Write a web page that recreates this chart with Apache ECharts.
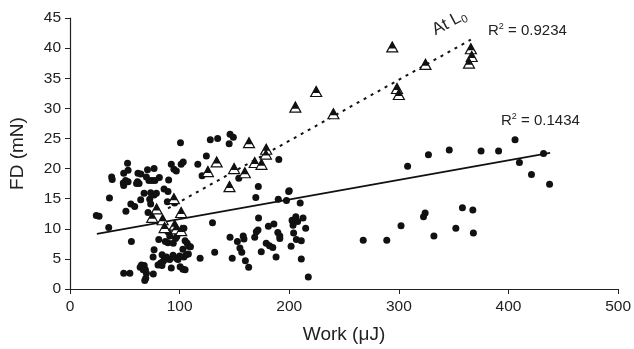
<!DOCTYPE html>
<html>
<head>
<meta charset="utf-8">
<script src="https://cdn.jsdelivr.net/npm/echarts@6/dist/echarts.min.js"></script>
<style>
  html, body { margin: 0; padding: 0; background: #fff; }
  #chart { width: 634px; height: 349px; }
</style>
</head>
<body>
<div id="chart"></div>
<script>
// all muscles: [work (uJ), FD (mN)]
const dots = [
  [24,12.2],[26.5,12.1],[36,15.1],[35.3,10.2],[38,18.6],[38.5,18.2],[49,19.2],[52.5,20.9],[53,19.7],
  [48.6,17.6],[50.7,18.0],[53,17.8],[49,17.2],[51,12.9],[55.5,14.1],[59,13.7],[56,7.9],[49,2.6],
  [54.6,2.6],[62,19.2],[64.6,19.1],[61.6,17.8],[63,17.5],[67.6,15.9],[64.5,14.8],[70.7,19.8],[76.7,20.0],
  [72,18.0],[74.8,18.0],[77.5,18.0],[81.5,18.5],[73.6,16.0],[76.7,15.6],[78.8,15.9],[72.7,14.9],
  [73.6,14.1],[71.2,12.7],[76.7,6.5],[75.8,5.3],[64,3.6],[67.7,3.9],[68.8,3.2],[69.7,2.6],[68.2,1.4],
  [76,2.5],[65.2,4.0],[66.8,3.2],[69.1,1.8],[69.7,18.6],[60.7,17.5],[81,8.2],[84,5.7],[85.8,16.6],
  [89.4,16.2],[90,18.1],[92.4,20.7],[94.8,19.9],[97,19.6],[101.4,20.7],[103.3,21.1],[100.8,24.3],
  [88.8,14.5],[95.4,14.3],[89.4,9.5],[91,8.8],[87,7.9],[89.4,7.7],[94.2,7.6],[96.3,8.4],[97.5,8.7],
  [103.9,10.1],[105,8.0],[106.9,7.6],[108.4,7.1],[109.9,7.0],[103,6.6],[106,5.7],[103.9,5.3],[94,5.6],
  [97,5.1],[98.5,4.9],[90.9,4.9],[86.4,4.9],[82.7,4.3],[80.3,4.0],[83.9,3.9],[92.4,3.5],[100.5,3.7],
  [103,3.3],[105,3.2],[88,5.3],[85,4.6],[100,5.5],[108,5.8],[118.7,5.1],[132,6.1],[130,11.0],
  [120.5,18.8],[116.6,20.7],[124.4,22.1],[128,24.8],[134.7,25.0],[145.2,24.1],[146,25.7],[149,25.2],
  [190.5,21.5],[154,18.4],[171.8,17.0],[169.5,15.2],[190,14.9],[197.5,14.7],[199.5,16.2],[200,16.3],
  [172,11.8],[146,8.6],[152.7,7.9],[158,8.8],[158.7,8.3],[155,6.8],[156.7,6.1],[170,9.5],[171.5,9.8],
  [168.5,8.6],[181,10.4],[186,10.8],[189.6,9.4],[191.4,8.8],[191.4,8.4],[179,7.6],[182,7.2],[185,6.9],
  [174.5,6.2],[188,5.3],[148,5.1],[160,4.7],[163,3.6],[206,12.0],[203,11.3],[203.5,10.6],[204,9.3],
  [206.5,8.2],[211,8.0],[201.7,7.1],[211,5.0],[215,10.1],[217.4,2.0],[210,14.3],[212.6,11.8],
  [207.7,11.2],[202.6,11.4],[308,20.4],[327,22.3],[346,23.1],[375,22.9],[391,22.9],[406,24.8],
  [410,21.0],[432,22.5],[421,19.0],[437.5,17.4],[267.5,8.1],[289,8.1],[302,10.5],[322.5,12.0],
  [324,12.6],[332,8.8],[352,10.1],[358,13.5],[367.5,13.1],[368,9.3]
];

// at L0
const triangles = [
  [75,11.9],[79,13.3],[84.5,11.5],[86.3,10.2],[94.8,15.0],[95.5,10.6],[97,10.0],[101.4,12.7],
  [101.4,9.7],[125.8,19.5],[133.8,21.1],[145.5,17.0],[149.7,20.0],[159.5,19.3],[163.3,24.3],
  [168.5,21.0],[174.7,20.7],[178.7,22.4],[179,23.2],[205.6,30.2],[224.6,32.8],[240.3,29.1],
  [294,40.2],[298.3,33.3],[300,32.3],[324.3,37.3],[365.7,39.9],[366.5,38.6],[364,37.5]
];

// trend line end points
const fitAll = [[24.5, 9.15], [438, 22.6]];
const fitL0 = [[89.4, 13.4], [365.7, 41.4]];

const xTicks = [0, 100, 200, 300, 400, 500];
const yTicks = [0, 5, 10, 15, 20, 25, 30, 35, 40, 45];

const font = 'Liberation Sans, Arial, sans-serif';
const chart = echarts.init(document.getElementById('chart'));

const option = {
  animation: false,
  grid: { left: 68, right: 14, top: 18, bottom: 60 },
  xAxis: {
    type: 'value',
    min: xTicks[0], max: xTicks[xTicks.length - 1], interval: 100,
    name: 'Work (μJ)', nameLocation: 'middle', nameGap: 36,
    nameTextStyle: { fontFamily: font, fontSize: 19, color: '#222' },
    axisLine: { lineStyle: { color: '#222', width: 1.2 } },
    axisTick: { inside: false, length: 5, lineStyle: { color: '#222' } },
    axisLabel: { fontFamily: font, fontSize: 15.5, color: '#222', margin: 10 },
    splitLine: { show: false }
  },
  yAxis: {
    type: 'value',
    min: yTicks[0], max: yTicks[yTicks.length - 1], interval: 5,
    name: 'FD (mN)', nameLocation: 'middle', nameGap: 43,
    nameTextStyle: { fontFamily: font, fontSize: 19, color: '#222' },
    axisLine: { show: true, lineStyle: { color: '#222', width: 1.2 } },
    axisTick: { show: true, inside: false, length: 5, lineStyle: { color: '#222' } },
    axisLabel: { fontFamily: font, fontSize: 15.5, color: '#222', margin: 9 },
    splitLine: { show: false }
  },
  series: [
    {
      type: 'line', data: fitAll, symbol: 'none',
      lineStyle: { color: '#111', width: 1.6 }, z: 1
    },
    {
      type: 'line', data: fitL0, symbol: 'none',
      lineStyle: { color: '#111', width: 2, type: [3, 5] }, z: 1
    },
    {
      type: 'scatter', data: dots, symbol: 'circle', symbolSize: 7,
      itemStyle: { color: '#111', opacity: 1 }, z: 2
    },
    {
      type: 'scatter', data: triangles, symbol: 'triangle', symbolSize: [11, 10],
      itemStyle: { color: '#fff', borderColor: '#111', borderWidth: 1.2, opacity: 1 }, z: 3
    },
    {
      type: 'scatter', data: triangles, symbol: 'triangle', symbolSize: [7, 7],
      symbolOffset: [0, -2],
      itemStyle: { color: '#111', opacity: 1 }, z: 4
    }
  ],
  graphic: [
    {
      type: 'text', x: 438, y: 40, rotation: 28 * Math.PI / 180,
      style: {
        text: 'At L{s|0}', fontFamily: font, fontSize: 17, fill: '#222',
        verticalAlign: 'bottom',
        rich: { s: { fontSize: 11, padding: [9, 0, 0, 0], fontFamily: font, fill: '#222' } }
      }
    },
    {
      type: 'text', x: 488, y: 40,
      style: {
        text: 'R{p|2} = 0.9234', fontFamily: font, fontSize: 15, fill: '#222',
        verticalAlign: 'bottom',
        rich: { p: { fontSize: 9, padding: [0, 0, 9, 0], fontFamily: font, fill: '#222' } }
      }
    },
    {
      type: 'text', x: 501, y: 130,
      style: {
        text: 'R{p|2} = 0.1434', fontFamily: font, fontSize: 15, fill: '#222',
        verticalAlign: 'bottom',
        rich: { p: { fontSize: 9, padding: [0, 0, 9, 0], fontFamily: font, fill: '#222' } }
      }
    }
  ]
};

chart.setOption(option);
</script>
</body>
</html>
